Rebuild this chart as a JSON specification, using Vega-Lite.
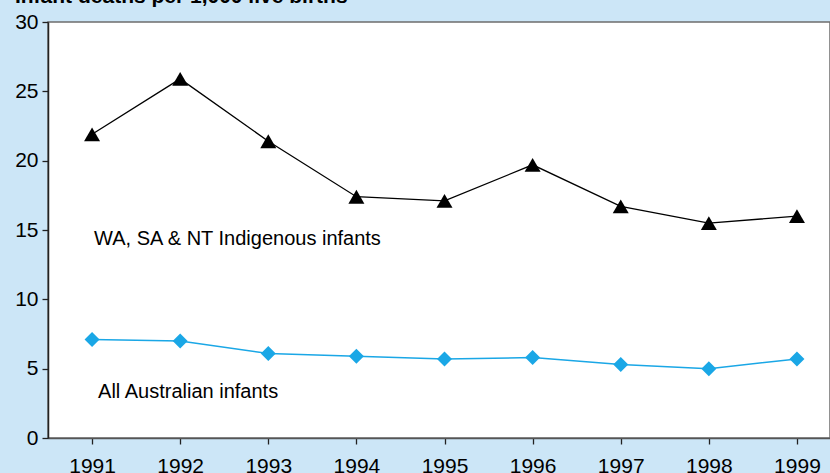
{
  "$schema": "https://vega.github.io/schema/vega-lite/v6.json",
  "autosize": "none",
  "width": 782,
  "height": 416,
  "padding": {"left": 48, "top": 22, "right": 0, "bottom": 35},
  "background": "#cce6f7",
  "config": {
    "view": {"fill": "#ffffff", "stroke": "#6e6e6e", "strokeWidth": 1.5},
    "font": "Liberation Sans",
    "axis": {
      "grid": false,
      "domainColor": "#222222",
      "domainWidth": 1.5,
      "tickColor": "#222222",
      "tickWidth": 1.3,
      "tickSize": 6,
      "labelFont": "Liberation Sans",
      "labelFontSize": 21,
      "labelColor": "#000000",
      "title": null
    }
  },
  "data": {
    "values": [
      {"year": 1991, "series": "Indigenous", "rate": 21.9},
      {"year": 1992, "series": "Indigenous", "rate": 25.9},
      {"year": 1993, "series": "Indigenous", "rate": 21.4},
      {"year": 1994, "series": "Indigenous", "rate": 17.4},
      {"year": 1995, "series": "Indigenous", "rate": 17.1},
      {"year": 1996, "series": "Indigenous", "rate": 19.7},
      {"year": 1997, "series": "Indigenous", "rate": 16.7},
      {"year": 1998, "series": "Indigenous", "rate": 15.5},
      {"year": 1999, "series": "Indigenous", "rate": 16.0},
      {"year": 1991, "series": "All", "rate": 7.1},
      {"year": 1992, "series": "All", "rate": 7.0},
      {"year": 1993, "series": "All", "rate": 6.1},
      {"year": 1994, "series": "All", "rate": 5.9},
      {"year": 1995, "series": "All", "rate": 5.7},
      {"year": 1996, "series": "All", "rate": 5.8},
      {"year": 1997, "series": "All", "rate": 5.3},
      {"year": 1998, "series": "All", "rate": 5.0},
      {"year": 1999, "series": "All", "rate": 5.7}
    ]
  },
  "encoding": {
    "x": {
      "field": "year",
      "type": "quantitative",
      "scale": {"domain": [1990.5, 1999.375], "nice": false, "zero": false},
      "axis": {"values": [1991,1992,1993,1994,1995,1996,1997,1998,1999], "format": "d", "labelPadding": 11, "labelFlush": false, "labelOverlap": false, "domainColor": "#555555"}
    },
    "y": {
      "field": "rate",
      "type": "quantitative",
      "scale": {"domain": [0, 30], "nice": false},
      "axis": {"values": [0,5,10,15,20,25,30], "labelPadding": 4}
    }
  },
  "layer": [
    {
      "transform": [{"filter": "datum.series === 'Indigenous'"}],
      "mark": {"type": "line", "color": "#000000", "strokeWidth": 1.3}
    },
    {
      "transform": [{"filter": "datum.series === 'Indigenous'"}],
      "mark": {"type": "point", "shape": "triangle-up", "filled": true, "color": "#000000", "size": 256, "opacity": 1}
    },
    {
      "transform": [{"filter": "datum.series === 'All'"}],
      "mark": {"type": "line", "color": "#1aa7e6", "strokeWidth": 1.5}
    },
    {
      "transform": [{"filter": "datum.series === 'All'"}],
      "mark": {"type": "point", "shape": "diamond", "filled": true, "color": "#1aa7e6", "size": 225, "opacity": 1}
    },
    {
      "transform": [{"filter": "datum.series === 'Indigenous' && datum.year === 1991"}],
      "mark": {"type": "text", "text": "WA, SA & NT Indigenous infants", "align": "left", "baseline": "middle", "fontSize": 20, "color": "#000000", "dx": 2},
      "encoding": {"x": {"datum": 1991}, "y": {"datum": 14.35}}
    },
    {
      "transform": [{"filter": "datum.series === 'All' && datum.year === 1991"}],
      "mark": {"type": "text", "text": "All Australian infants", "align": "left", "baseline": "middle", "fontSize": 20, "color": "#000000", "dx": 6},
      "encoding": {"x": {"datum": 1991}, "y": {"datum": 3.3}}
    },
    {
      "transform": [{"filter": "datum.series === 'All' && datum.year === 1991"}],
      "mark": {"type": "text", "text": "Infant deaths per 1,000 live births", "align": "left", "baseline": "alphabetic", "fontSize": 21, "fontWeight": "bold", "color": "#000000"},
      "encoding": {"x": {"datum": 1990.125}, "y": {"datum": 31.37}}
    }
  ]
}
